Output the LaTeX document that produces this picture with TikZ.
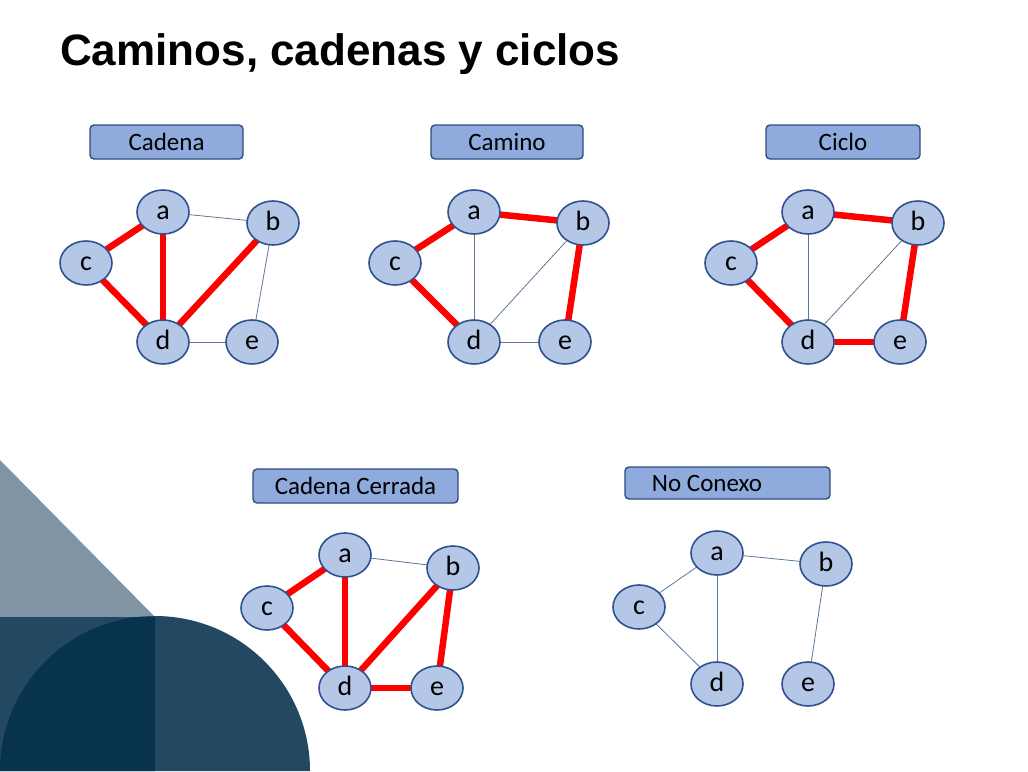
\documentclass[tikz,border=0pt]{standalone}
\usepackage{fontspec}
\setmainfont{Carlito}
\newfontfamily\titlefont{Liberation Sans}
\usetikzlibrary{shapes.geometric,backgrounds}
\definecolor{nodefill}{HTML}{B4C7E7}
\definecolor{nodeborder}{HTML}{2F528F}
\definecolor{boxfill}{HTML}{8FAADC}
\definecolor{boxborder}{HTML}{2F4B7C}
\definecolor{thinline}{HTML}{5B7896}
\definecolor{redline}{HTML}{FF0000}
\definecolor{trifill}{HTML}{7F95A6}
\definecolor{darkfill}{HTML}{234862}
\definecolor{darkerfill}{HTML}{07334F}
\tikzset{
  vtx/.style={ellipse, minimum width=52pt, minimum height=44pt, inner sep=0pt,
    fill=nodefill, draw=nodeborder, line width=1.6pt,
    text height=15pt, text depth=0pt,
    font=\fontsize{28}{32}\selectfont},
  labelbox/.style={rectangle, rounded corners=4pt, fill=boxfill, draw=boxborder,
    line width=1.4pt, inner sep=0pt, font=\fontsize{25}{30}\selectfont},
  hot/.style={draw=redline, line width=6.5pt},
  thin/.style={draw=thinline, line width=0.8pt},
}
\begin{document}
\begin{tikzpicture}[x=1pt,y=-1pt]
\useasboundingbox (0,0) rectangle (1028,771);
% decorative background shapes
\begin{scope}[on background layer]
  \fill[trifill] (0,460) -- (155,617) -- (0,617) -- cycle;
  \fill[darkfill] (0,617) rectangle (155,771);
  \fill[darkfill] (0,771) arc[start angle=180, end angle=360, radius=155] -- cycle;
  \begin{scope}
    \clip (0,617) rectangle (155,771);
    \fill[darkerfill] (0,771) arc[start angle=180, end angle=360, radius=155] -- cycle;
  \end{scope}
\end{scope}
% title
\node[anchor=base west, inner sep=0pt, font=\titlefont\bfseries\fontsize{44}{50}\selectfont] (title) at (60,65) {Caminos, cadenas y ciclos};
% label boxes
\node[labelbox, minimum width=153pt, minimum height=34pt] (bx1) at (166.5,142) {Cadena};
\node[labelbox, minimum width=152pt, minimum height=34pt] (bx2) at (507,142) {Camino};
\node[labelbox, minimum width=154pt, minimum height=34pt] (bx3) at (843,142) {Ciclo};
\node[labelbox, minimum width=205pt, minimum height=34pt] (bx4) at (355.5,486) {Cadena Cerrada};
\node[labelbox, minimum width=205pt, minimum height=32pt] (bx5) at (727.5,483) {};
\node[font=\fontsize{25}{30}\selectfont, inner sep=0pt] (bx5t) at (707,483) {No Conexo};
% graph 1: Cadena
\node[vtx] (a1) at (163,212) {a};
\node[vtx] (b1) at (273,223) {b};
\node[vtx] (c1) at (86,263) {c};
\node[vtx] (d1) at (163,342) {d};
\node[vtx] (e1) at (252,342) {e};
% graph 2: Camino
\node[vtx] (a2) at (474,212) {a};
\node[vtx] (b2) at (583,223) {b};
\node[vtx] (c2) at (395,263) {c};
\node[vtx] (d2) at (474,342) {d};
\node[vtx] (e2) at (565,342) {e};
% graph 3: Ciclo
\node[vtx] (a3) at (808,212) {a};
\node[vtx] (b3) at (918,223) {b};
\node[vtx] (c3) at (731,263) {c};
\node[vtx] (d3) at (808,342) {d};
\node[vtx] (e3) at (900,342) {e};
% graph 4: Cadena Cerrada
\node[vtx] (a4) at (345,555) {a};
\node[vtx] (b4) at (453,568) {b};
\node[vtx] (c4) at (267,608) {c};
\node[vtx] (d4) at (345,688) {d};
\node[vtx] (e4) at (437,688) {e};
% graph 5: No Conexo
\node[vtx] (a5) at (717,553) {a};
\node[vtx] (b5) at (826,564) {b};
\node[vtx] (c5) at (639,607) {c};
\node[vtx] (d5) at (717,684) {d};
\node[vtx] (e5) at (808,684) {e};
% edges
\begin{scope}[on background layer]
  % Cadena
  \draw[thin] (a1.center) -- (b1.center);
  \draw[thin] (b1.center) -- (e1.center);
  \draw[thin] (d1.center) -- (e1.center);
  \draw[hot] (c1.center) -- (a1.center);
  \draw[hot] (a1.center) -- (d1.center);
  \draw[hot] (c1.center) -- (d1.center);
  \draw[hot] (d1.center) -- (b1.center);
  % Camino
  \draw[thin] (a2.center) -- (d2.center);
  \draw[thin] (d2.center) -- (b2.center);
  \draw[thin] (d2.center) -- (e2.center);
  \draw[hot] (c2.center) -- (a2.center);
  \draw[hot] (a2.center) -- (b2.center);
  \draw[hot] (b2.center) -- (e2.center);
  \draw[hot] (c2.center) -- (d2.center);
  % Ciclo
  \draw[thin] (a3.center) -- (d3.center);
  \draw[thin] (d3.center) -- (b3.center);
  \draw[hot] (c3.center) -- (a3.center);
  \draw[hot] (a3.center) -- (b3.center);
  \draw[hot] (b3.center) -- (e3.center);
  \draw[hot] (e3.center) -- (d3.center);
  \draw[hot] (d3.center) -- (c3.center);
  % Cadena Cerrada
  \draw[thin] (a4.center) -- (b4.center);
  \draw[hot] (c4.center) -- (a4.center);
  \draw[hot] (a4.center) -- (d4.center);
  \draw[hot] (c4.center) -- (d4.center);
  \draw[hot] (d4.center) -- (b4.center);
  \draw[hot] (b4.center) -- (e4.center);
  \draw[hot] (d4.center) -- (e4.center);
  % No Conexo
  \draw[thin] (a5.center) -- (c5.center);
  \draw[thin] (a5.center) -- (b5.center);
  \draw[thin] (a5.center) -- (d5.center);
  \draw[thin] (c5.center) -- (d5.center);
  \draw[thin] (b5.center) -- (e5.center);
\end{scope}
\end{tikzpicture}
\end{document}
